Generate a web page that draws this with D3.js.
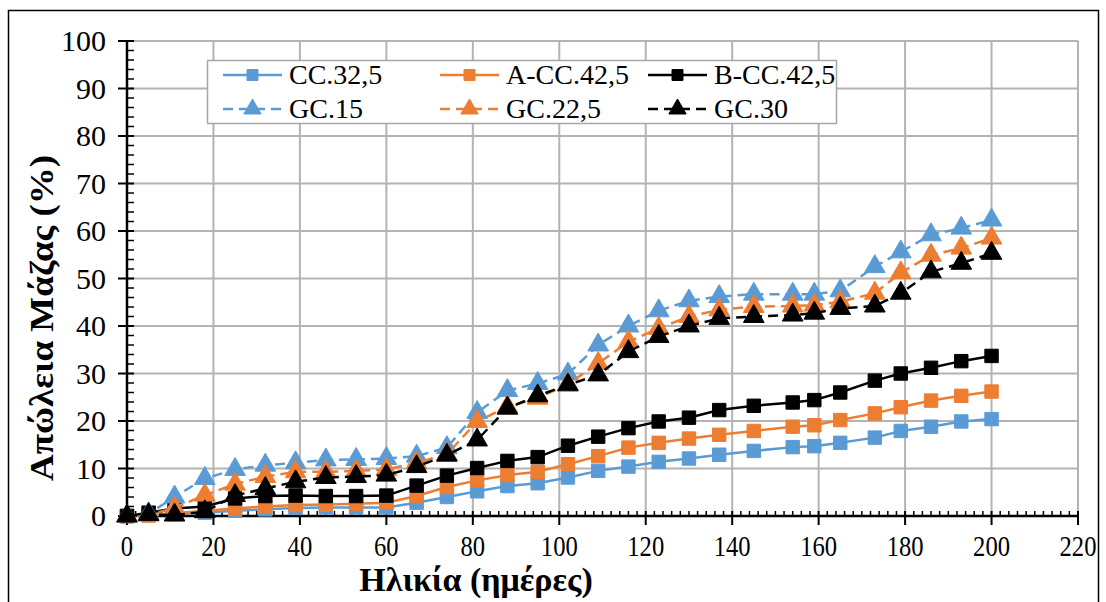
<!DOCTYPE html>
<html>
<head>
<meta charset="utf-8">
<script src="https://cdn.jsdelivr.net/npm/d3@7"></script>
<style>
  html, body { margin: 0; padding: 0; background: #fff; }
  svg { display: block; }
  text { font-family: "Liberation Serif", "Times New Roman", serif; fill: #000; }
</style>
</head>
<body>
<svg id="chart" width="1106" height="602"></svg>
<script>
// Age of the specimens (days)
const days = [0, 5, 11, 18, 25, 32, 39, 46, 53, 60, 67, 74, 81, 88, 95, 102, 109, 116, 123, 130, 137, 145, 154, 159, 165, 173, 179, 186, 193, 200];

// Mass loss (%) per mix
const cc325 = [0, 0.2, 0.4, 0.7, 1.1, 1.4, 1.7, 1.8, 1.8, 1.8, 2.8, 4.0, 5.2, 6.3, 6.9, 8.1, 9.5, 10.4, 11.4, 12.1, 12.9, 13.7, 14.5, 14.7, 15.4, 16.5, 17.9, 18.8, 19.9, 20.4];
const acc425 = [0, 0.1, 0.6, 1.1, 1.6, 2.0, 2.3, 2.4, 2.6, 2.8, 4.2, 6.1, 7.5, 8.6, 9.3, 10.9, 12.6, 14.4, 15.4, 16.3, 17.1, 17.9, 18.8, 19.1, 20.2, 21.6, 22.9, 24.3, 25.3, 26.2];
const bcc425 = [0, 0.7, 1.6, 2.0, 3.7, 4.2, 4.3, 4.2, 4.2, 4.3, 6.4, 8.5, 10.1, 11.6, 12.4, 14.8, 16.7, 18.5, 19.9, 20.7, 22.3, 23.2, 23.9, 24.4, 26.0, 28.5, 30.0, 31.2, 32.6, 33.7];
const gc15 = [0, 0.5, 4.0, 7.9, 9.8, 10.7, 11.2, 11.8, 11.9, 12.1, 12.6, 14.4, 21.8, 26.4, 27.9, 29.9, 36.0, 40.0, 43.2, 45.3, 46.2, 46.7, 46.7, 46.7, 47.4, 52.5, 55.6, 59.2, 60.6, 62.3];
const gc225 = [0, 0.2, 1.7, 4.4, 6.7, 8.3, 9.3, 9.3, 9.5, 9.8, 11.2, 13.0, 19.9, 23.0, 24.8, 27.8, 32.1, 36.7, 39.5, 42.0, 43.4, 44.1, 44.2, 44.4, 45.1, 46.9, 51.2, 54.9, 56.4, 58.5];
const gc30 = [0, 0.3, 0.2, 0.9, 4.3, 5.8, 7.2, 8.1, 8.3, 8.6, 10.4, 12.8, 16.0, 22.7, 25.3, 27.6, 29.7, 34.6, 37.8, 40.0, 41.6, 42.0, 42.3, 42.7, 43.7, 44.2, 46.9, 51.4, 53.2, 55.3];

const seriesNames = ["CC.32,5", "A-CC.42,5", "B-CC.42,5", "GC.15", "GC.22,5", "GC.30"];
const xTicks = [0, 20, 40, 60, 80, 100, 120, 140, 160, 180, 200, 220];
const yTicks = [0, 10, 20, 30, 40, 50, 60, 70, 80, 90, 100];
const xTitle = "Ηλικία (ημέρες)";
const yTitle = "Απώλεια Μάζας (%)";

const BLUE = "#5B9BD5", ORANGE = "#ED7D31", BLACK = "#000000";
const series = [
  { name: seriesNames[0], values: cc325,  color: BLUE,   dashed: false, marker: "square" },
  { name: seriesNames[1], values: acc425, color: ORANGE, dashed: false, marker: "square" },
  { name: seriesNames[2], values: bcc425, color: BLACK,  dashed: false, marker: "square" },
  { name: seriesNames[3], values: gc15,   color: BLUE,   dashed: true,  marker: "triangle" },
  { name: seriesNames[4], values: gc225,  color: ORANGE, dashed: true,  marker: "triangle" },
  { name: seriesNames[5], values: gc30,   color: BLACK,  dashed: true,  marker: "triangle" }
];

const svg = d3.select("#chart");
const plot = { left: 127, right: 1078, top: 41, bottom: 516 };

// Outer chart frame
svg.append("rect")
  .attr("x", 8.5).attr("y", 10.5)
  .attr("width", 1090).attr("height", 620)
  .attr("fill", "#fff").attr("stroke", "#000").attr("stroke-width", 1.5);

const x = d3.scaleLinear().domain([0, 220]).range([plot.left, plot.right]);
const y = d3.scaleLinear().domain([0, 100]).range([plot.bottom, plot.top]);

// Gridlines
const grid = svg.append("g");
grid.selectAll("line.gx").data(xTicks.filter(t => t > 0)).join("line")
  .attr("x1", d => x(d)).attr("x2", d => x(d))
  .attr("y1", plot.top).attr("y2", plot.bottom)
  .attr("stroke", "#b3b3b3").attr("stroke-width", 2);
grid.selectAll("line.gy").data(yTicks.filter(t => t > 0)).join("line")
  .attr("x1", plot.left).attr("x2", plot.right)
  .attr("y1", d => y(d)).attr("y2", d => y(d))
  .attr("stroke", "#b3b3b3").attr("stroke-width", 2);

// Minor ticks (every 2 units, inside the plot)
const minorX = d3.range(0, 221, 2).filter(v => v % 20 !== 0);
const minorY = d3.range(0, 101, 2).filter(v => v % 10 !== 0);
const axes = svg.append("g");
axes.selectAll("line.mx").data(minorX).join("line")
  .attr("x1", d => x(d)).attr("x2", d => x(d))
  .attr("y1", plot.bottom - 5).attr("y2", plot.bottom)
  .attr("stroke", "#000").attr("stroke-width", 1.5);
axes.selectAll("line.my").data(minorY).join("line")
  .attr("x1", plot.left).attr("x2", plot.left + 7)
  .attr("y1", d => y(d)).attr("y2", d => y(d))
  .attr("stroke", "#000").attr("stroke-width", 1.5);

// Major ticks crossing the axes
axes.selectAll("line.Mx").data(xTicks).join("line")
  .attr("x1", d => x(d)).attr("x2", d => x(d))
  .attr("y1", plot.bottom - 5).attr("y2", plot.bottom + 9)
  .attr("stroke", "#000").attr("stroke-width", 2);
axes.selectAll("line.My").data(yTicks).join("line")
  .attr("x1", plot.left - 9).attr("x2", plot.left + 7)
  .attr("y1", d => y(d)).attr("y2", d => y(d))
  .attr("stroke", "#000").attr("stroke-width", 2);

// Axis lines
axes.append("line").attr("x1", plot.left).attr("x2", plot.left)
  .attr("y1", plot.top).attr("y2", plot.bottom)
  .attr("stroke", "#000").attr("stroke-width", 2.5);
axes.append("line").attr("x1", plot.left).attr("x2", plot.right)
  .attr("y1", plot.bottom).attr("y2", plot.bottom)
  .attr("stroke", "#000").attr("stroke-width", 2.5);

// Tick labels
svg.append("g").selectAll("text").data(yTicks).join("text")
  .attr("x", 106).attr("y", d => y(d) + 10)
  .attr("text-anchor", "end").attr("font-size", 30)
  .text(d => d);
svg.append("g").selectAll("text").data(xTicks).join("text")
  .attr("transform", d => `translate(${x(d)},${plot.bottom + 40}) scale(0.82,1)`)
  .attr("text-anchor", "middle").attr("font-size", 30)
  .text(d => d);

// Axis titles
svg.append("text")
  .attr("transform", `translate(476,591)`)
  .attr("text-anchor", "middle").attr("font-size", 34).attr("font-weight", "bold")
  .text(xTitle);
svg.append("text")
  .attr("transform", `translate(53,318) rotate(-90) scale(1,0.9)`)
  .attr("text-anchor", "middle").attr("font-size", 37).attr("font-weight", "bold")
  .text(yTitle);

// Marker shapes
const squareSym = d3.symbol().type(d3.symbolSquare).size(180);
const triSym = d3.symbol().type(d3.symbolTriangle).size(185);

// Series lines and markers
const line = d3.line().x(d => x(d[0])).y(d => y(d[1]));
const lines = svg.append("g");
series.forEach(s => {
  const pts = days.map((d, i) => [d, s.values[i]]);
  const g = lines.append("g");
  g.append("path").datum(pts)
    .attr("d", line)
    .attr("fill", "none").attr("stroke", s.color).attr("stroke-width", 2.5)
    .attr("stroke-dasharray", s.dashed ? "10,6" : null);
  g.selectAll("path.m").data(pts).join("path")
    .attr("transform", d => `translate(${x(d[0])},${y(d[1])})`)
    .attr("d", s.marker === "square" ? squareSym() : triSym())
    .attr("fill", s.color).attr("stroke", s.color).attr("stroke-width", 1);
});

// Legend
const legend = svg.append("g");
legend.append("rect")
  .attr("x", 207.5).attr("y", 60.5).attr("width", 629).attr("height", 63)
  .attr("fill", "#fff").attr("stroke", "#a6a6a6").attr("stroke-width", 1.5);
const colX = [223, 440, 648];
const rowY = [75, 109];
series.forEach((s, i) => {
  const cx = colX[i % 3], cy = rowY[Math.floor(i / 3)];
  const g = legend.append("g");
  g.append("line").attr("x1", cx).attr("x2", cx + 59)
    .attr("y1", cy).attr("y2", cy)
    .attr("stroke", s.color).attr("stroke-width", 2.5)
    .attr("stroke-dasharray", s.dashed ? "10,6" : null);
  g.append("path")
    .attr("transform", `translate(${cx + 29.5},${cy})`)
    .attr("d", s.marker === "square" ? d3.symbol().type(d3.symbolSquare).size(120)() : d3.symbol().type(d3.symbolTriangle).size(130)())
    .attr("fill", s.color).attr("stroke", s.color);
  g.append("text")
    .attr("x", cx + 66).attr("y", cy + 9)
    .attr("font-size", 28)
    .text(s.name);
});
</script>
</body>
</html>
